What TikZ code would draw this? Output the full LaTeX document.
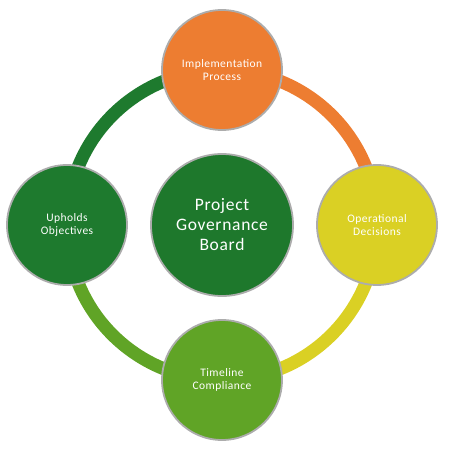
\documentclass[tikz,border=0pt]{standalone}
\usepackage{fontspec}
\setmainfont[LetterSpace=4]{Carlito}
\usetikzlibrary{shapes,backgrounds}
\definecolor{implorange}{RGB}{237,125,49}
\definecolor{operyellow}{RGB}{218,208,36}
\definecolor{timegreen}{RGB}{96,164,38}
\definecolor{upholdgreen}{RGB}{30,122,46}
\definecolor{boardgreen}{RGB}{30,120,44}
\tikzstyle{hub} = [circle, draw=gray!65, line width=1.8pt, fill=boardgreen,
text=white, minimum size=142pt, inner sep=0pt, align=center,
font=\fontsize{17.5}{20}\selectfont]
\tikzstyle{spoke} = [circle, draw=gray!65, line width=1.8pt, text=white,
minimum size=120pt, inner sep=0pt, align=center,
font=\fontsize{11.5}{13.5}\selectfont]
\tikzstyle{ring} = [draw, line width=13pt]

\begin{document}
\begin{tikzpicture}[x=1pt, y=1pt, node distance=155pt]
\useasboundingbox (0,0) rectangle (450,-450);

% Place nodes
\node [hub] (board) at (222,-225) {Project\\Governance\\Board};
\node [spoke, fill=implorange, above of=board] (impl) {Implementation\\Process};
\node [spoke, fill=operyellow, right of=board] (oper) {Operational\\Decisions};
\node [spoke, fill=timegreen, below of=board] (time) {Timeline\\Compliance};
\node [spoke, fill=upholdgreen, left of=board] (uphold) {Upholds\\Objectives};
% Draw ring
\begin{scope}[on background layer]
\path [ring, draw=implorange] (impl.center) to[bend left=45] (oper.center);
\path [ring, draw=operyellow] (oper.center) to[bend left=45] (time.center);
\path [ring, draw=timegreen] (time.center) to[bend left=45] (uphold.center);
\path [ring, draw=upholdgreen] (uphold.center) to[bend left=45] (impl.center);
\end{scope}
\end{tikzpicture}
\end{document}
